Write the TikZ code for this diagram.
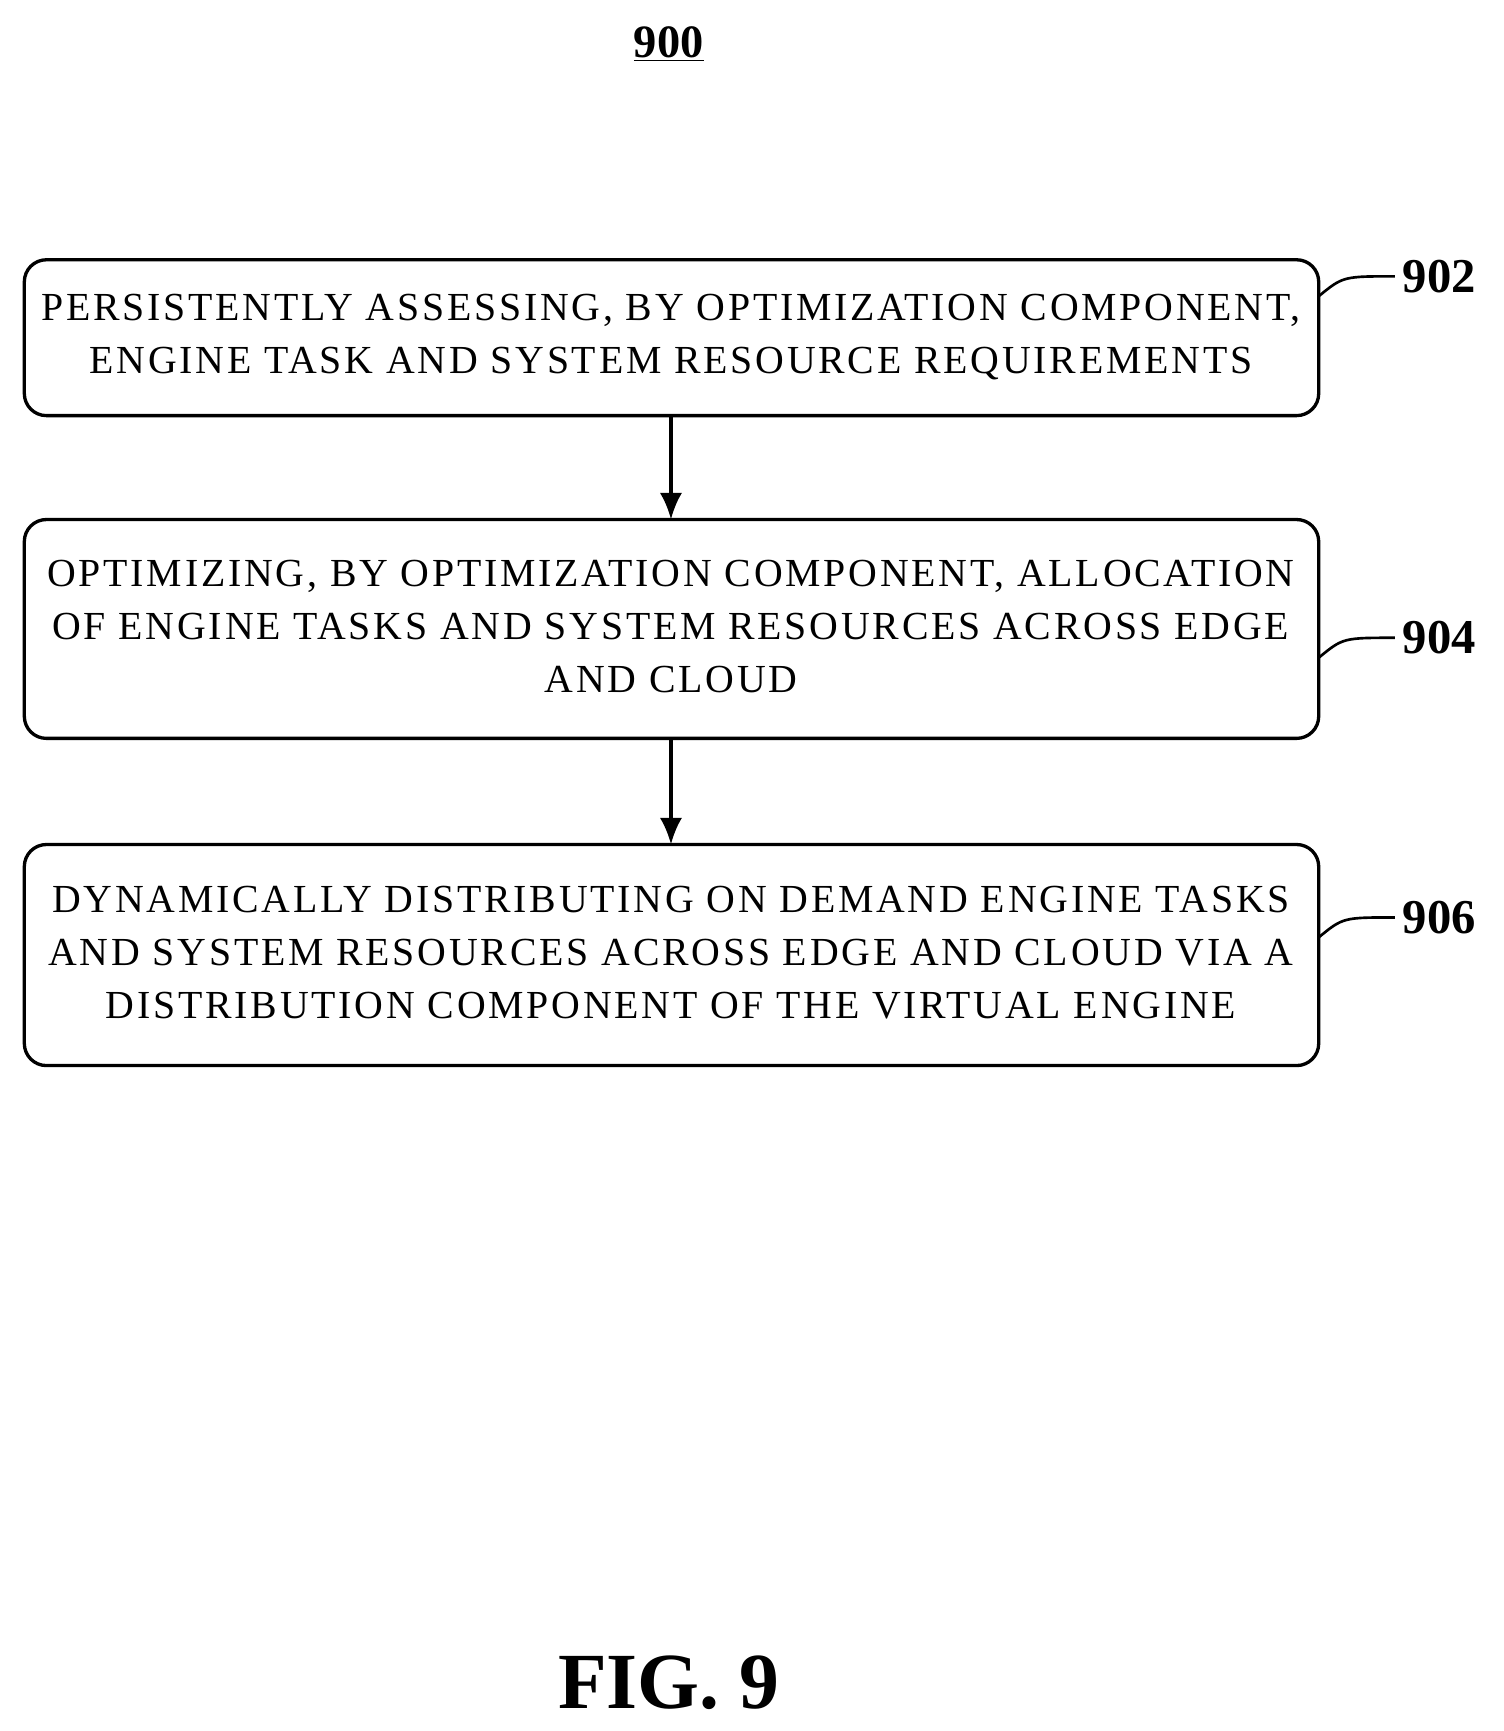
\documentclass[tikz,border=0pt]{standalone}
\usepackage{fontspec}
\setmainfont{Liberation Serif}
\newfontfamily\spacedfont[LetterSpace=7]{Liberation Serif}
\usetikzlibrary{arrows.meta}
\begin{document}
\begin{tikzpicture}[x=0.5pt,y=-0.5pt,
 box/.style={align=center,font=\spacedfont\fontsize{18}{24}\selectfont,inner sep=0pt},
 frame/.style={line width=1.5pt,rounded corners=10pt},
 lab/.style={font=\fontsize{22}{26}\selectfont\bfseries,anchor=west},
 lead/.style={line width=1.2pt},
 arr/.style={line width=1.5pt,-{Latex[length=12pt,width=10pt]}}]
\useasboundingbox (0,0) rectangle (1360,1566);
\node[font=\fontsize{21}{24}\selectfont\bfseries] (t) at (605,40) {\underline{900}};
\draw[frame] (22,235) rectangle (1193,376);
\node[box] (b1) at (607,305) {PERSISTENTLY ASSESSING, BY OPTIMIZATION COMPONENT,\\ENGINE TASK AND SYSTEM RESOURCE REQUIREMENTS};
\draw[frame] (22,470) rectangle (1193,668);
\node[box] (b2) at (607,567) {OPTIMIZING, BY OPTIMIZATION COMPONENT, ALLOCATION\\OF ENGINE TASKS AND SYSTEM RESOURCES ACROSS EDGE\\AND CLOUD};
\draw[frame] (22,764) rectangle (1193,964);
\node[box] (b3) at (607,862) {DYNAMICALLY DISTRIBUTING ON DEMAND ENGINE TASKS\\AND SYSTEM RESOURCES ACROSS EDGE AND CLOUD VIA A\\DISTRIBUTION COMPONENT OF THE VIRTUAL ENGINE};
\coordinate (a1) at (607,376); \coordinate (a2) at (607,470);
\coordinate (a3) at (607,668); \coordinate (a4) at (607,764);
\draw[arr] (a1) -- (a2);
\draw[arr] (a3) -- (a4);
\node[lab] (l1) at (1262,250) {902};
\node[lab] (l2) at (1262,577) {904};
\node[lab] (l3) at (1262,830) {906};
\coordinate (e1) at (1193,268); \coordinate (e2) at (1193,595); \coordinate (e3) at (1193,848);
\draw[lead] (e1) .. controls (1215,250) .. (l1.west);
\draw[lead] (e2) .. controls (1215,577) .. (l2.west);
\draw[lead] (e3) .. controls (1215,830) .. (l3.west);
\node[font=\fontsize{36}{40}\selectfont\bfseries] (f) at (605,1522) {FIG. 9};
\end{tikzpicture}
\end{document}
